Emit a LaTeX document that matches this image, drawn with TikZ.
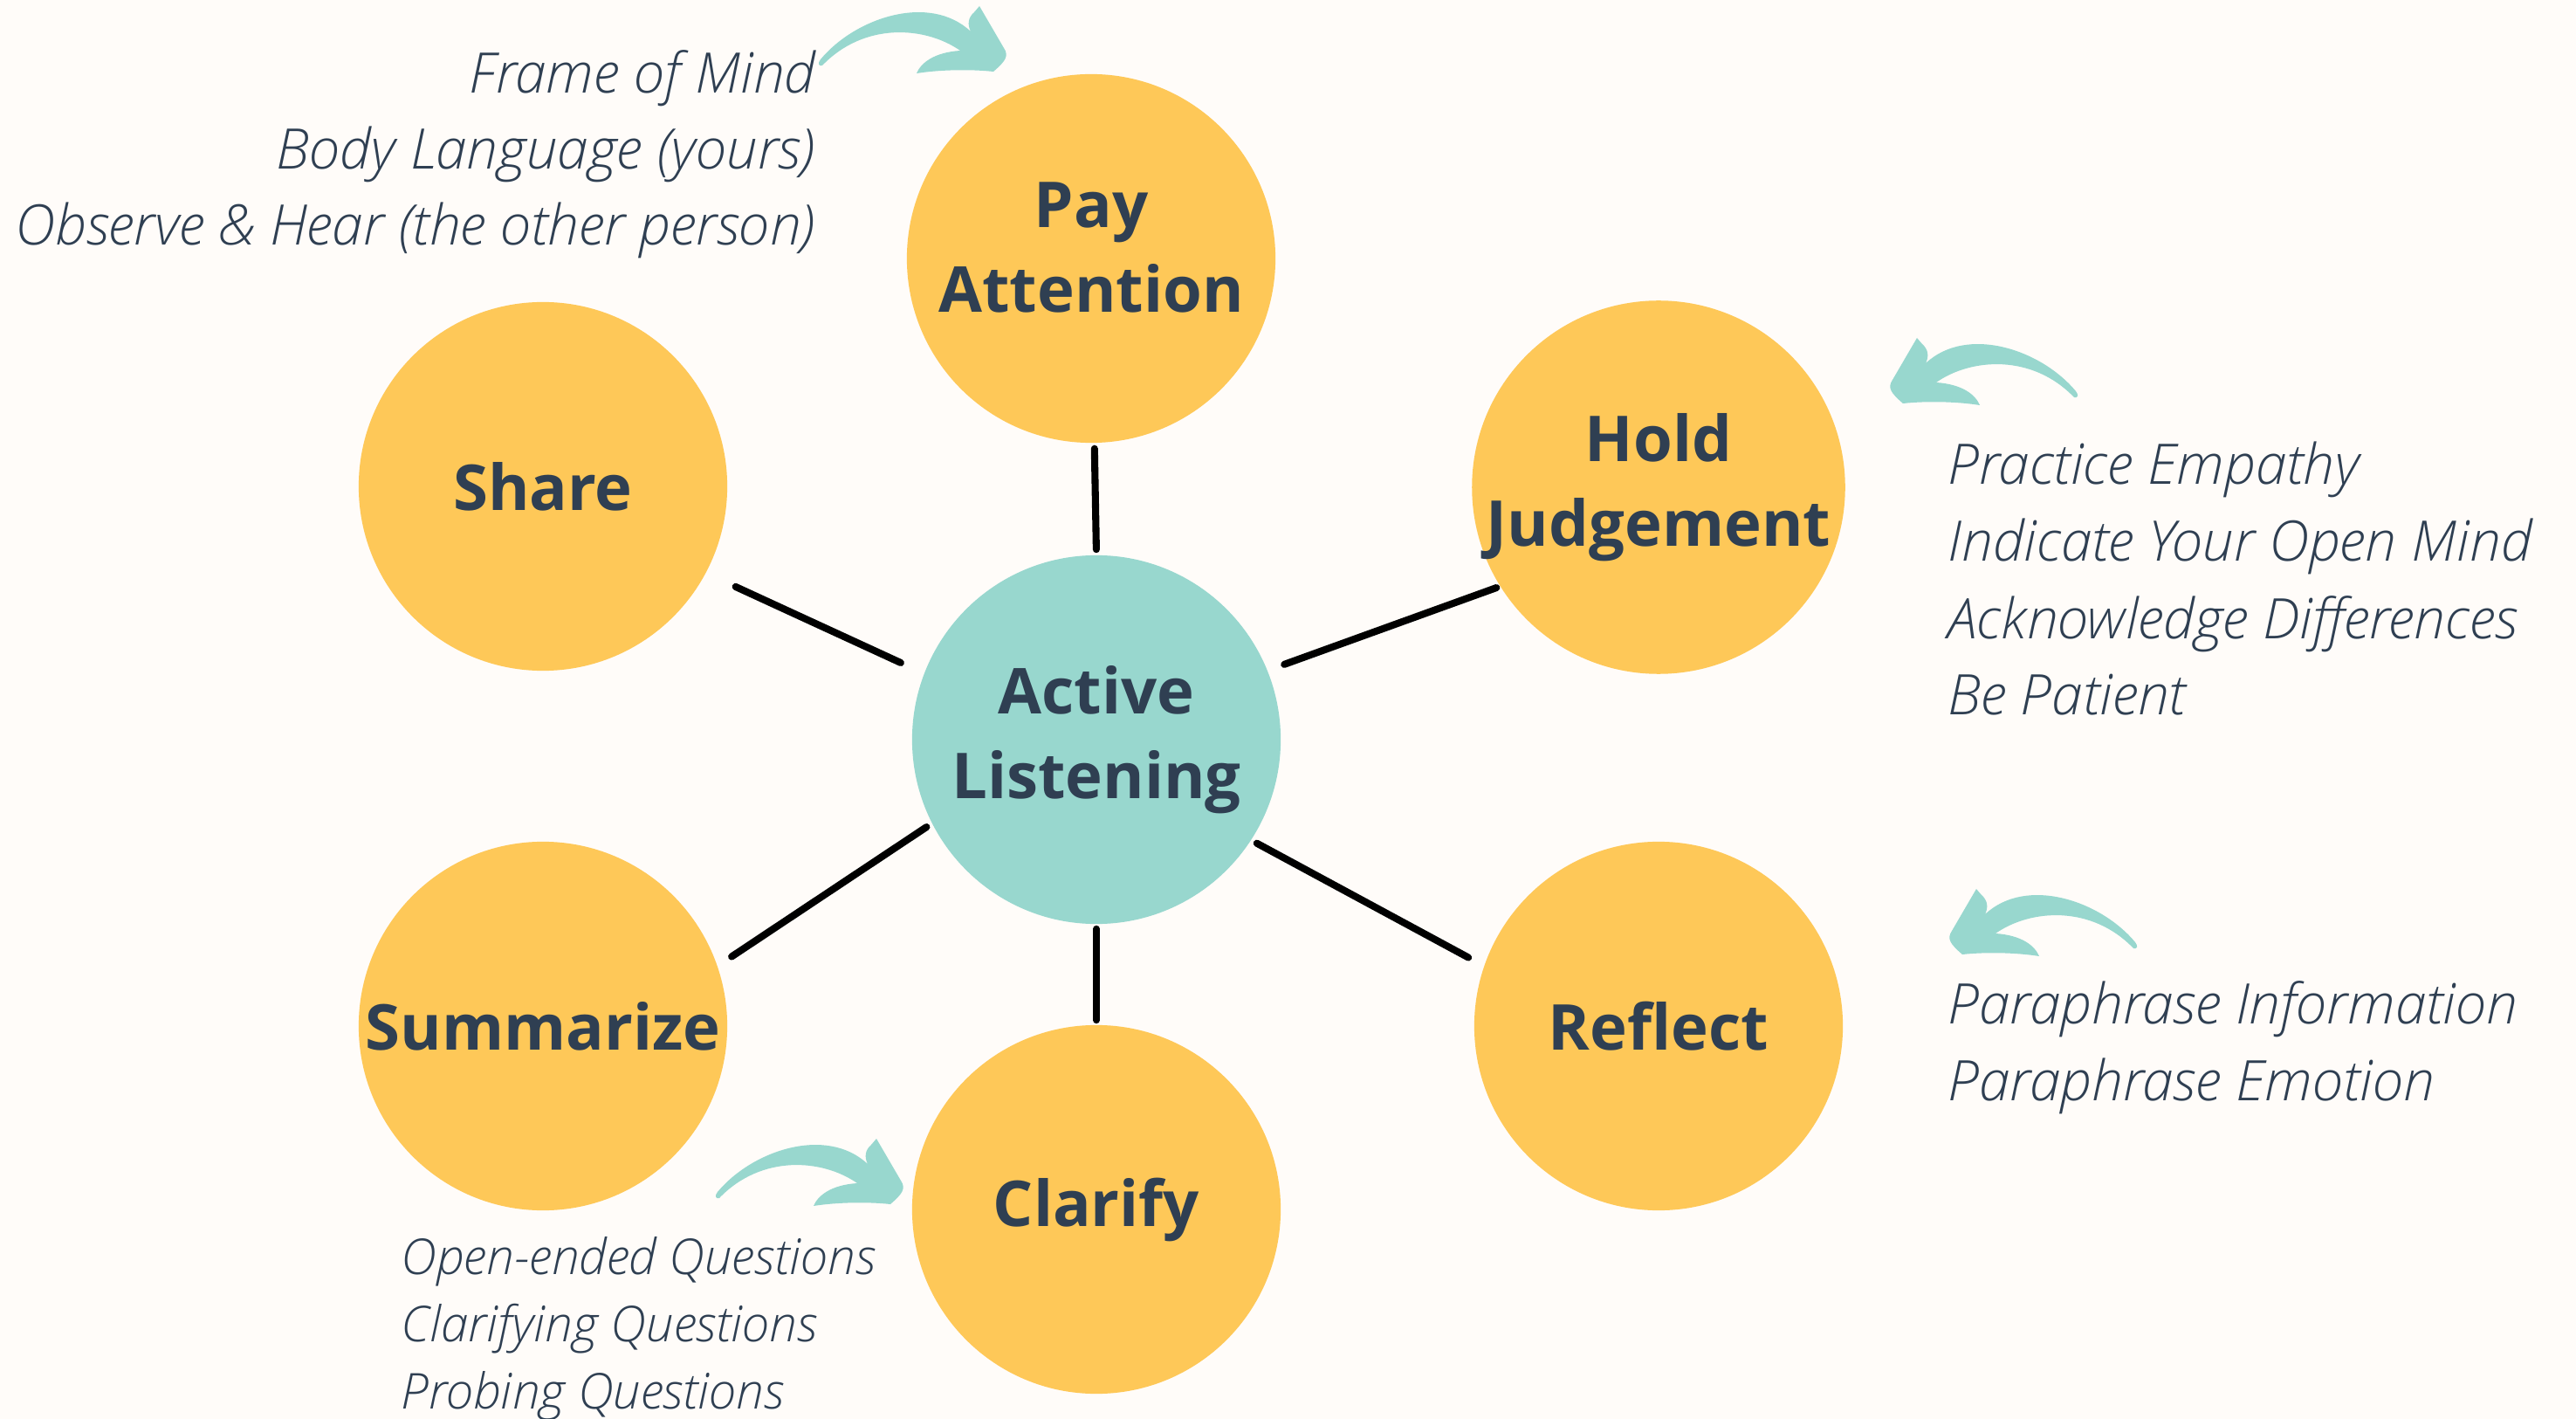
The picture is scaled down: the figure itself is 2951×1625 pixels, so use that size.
\documentclass[tikz,border=0pt]{standalone}
\usepackage{fontspec}
\setmainfont{Open Sans}
\newfontfamily\notefont{Open Sans Light Italic}
\usepackage{xcolor}

\definecolor{paper}{HTML}{FFFCF9}
\definecolor{sunflower}{HTML}{FEC858}
\definecolor{seafoam}{HTML}{98D7CE}
\definecolor{ink}{HTML}{2F3F52}

\tikzset{
  bubble/.style={circle,fill=sunflower,minimum size=4.22cm,inner sep=0pt,align=center,
    text=ink,font=\bfseries\fontsize{20.6}{27.5}\selectfont},
  hubbubble/.style={bubble,fill=seafoam},
  spoke/.style={line width=2.3pt,line cap=round,black},
  note/.style={inner sep=0pt,text=ink,font=\notefont\fontsize{18.2}{22}\selectfont},
  smallnote/.style={note,font=\notefont\fontsize{16.1}{20}\selectfont},
  % hand drawn curly arrow, tail on the left, head on the right
  swoosh/.pic={
    \fill[seafoam] (40,68) .. controls (80,20) and (165,-8) .. (212,36)
      .. controls (208,28) and (209,20) .. (216,14) -- (222,7)
      -- (250,55) .. controls (256,64) and (252,70) .. (238,82)
      .. controls (210,79) and (175,80) .. (150,84)
      .. controls (155,72) and (170,60) .. (200,58)
      .. controls (160,30) and (90,25) .. (42,75)
      .. controls (38,76) and (36,73) .. cycle;
  }
}

\begin{document}
\begin{tikzpicture}[x=0.01cm,y=-0.01cm]
\fill[paper] (0,0) rectangle (2951,1625);
\useasboundingbox (0,0) rectangle (2951,1625);

% circles
\node[hubbubble] (hub) at (1256,847) {Active\\Listening};
\node[bubble,text depth=0.26cm] (pay) at (1250,296) {Pay\\Attention};
\node[bubble] (hold) at (1900,558) {Hold\\Judgement};
\node[bubble] (reflect) at (1900,1175) {Reflect};
\node[bubble] (clarify) at (1256,1385) {Clarify};
\node[bubble] (summarize) at (622,1175) {Summarize};
\node[bubble] (share) at (622,557) {Share};

% spokes
\draw[spoke,shorten <=0.06cm,shorten >=0.06cm] (pay.-89) -- (hub.90);
\draw[spoke,shorten <=0.04cm,shorten >=0.2cm] (hold.212) -- (hub.22);
\draw[spoke,shorten <=0.2cm,shorten >=0.07cm] (reflect.161) -- (hub.-33);
\draw[spoke,shorten <=0.05cm,shorten >=0.05cm] (clarify.90) -- (hub.-90);
\draw[spoke,shorten <=0.19cm,shorten >=0.07cm] (summarize.19) -- (hub.207);
\draw[spoke,shorten <=0.37cm,shorten >=0.29cm] (share.-28) -- (hub.159);

% curly arrows
\pic at (900,0) {swoosh};
\pic at (782,1297) {swoosh};
\pic[xscale=-1] at (2418,380) {swoosh};
\pic[xscale=-1] at (2486,1011) {swoosh};

% notes
\node[note,anchor=base east] (pay1) at (935,107) {Frame of Mind};
\node[note,anchor=base east] (pay2) at (935,194) {Body Language (yours)};
\node[note,anchor=base east] (pay3) at (935,281) {Observe \& Hear (the other person)};

\node[note,anchor=base west] (hold1) at (2231,555) {Practice Empathy};
\node[note,anchor=base west] (hold2) at (2231,643) {Indicate Your Open Mind};
\node[note,anchor=base west] (hold3) at (2231,732) {Acknowledge Differences};
\node[note,anchor=base west] (hold4) at (2231,819) {Be Patient};

\node[note,anchor=base west] (reflect1) at (2231,1172) {Paraphrase Information};
\node[note,anchor=base west] (reflect2) at (2231,1260) {Paraphrase Emotion};

\node[smallnote,anchor=base west] (clarify1) at (459,1459) {Open-ended Questions};
\node[smallnote,anchor=base west] (clarify2) at (459,1536) {Clarifying Questions};
\node[smallnote,anchor=base west] (clarify3) at (459,1613) {Probing Questions};
\end{tikzpicture}
\end{document}
